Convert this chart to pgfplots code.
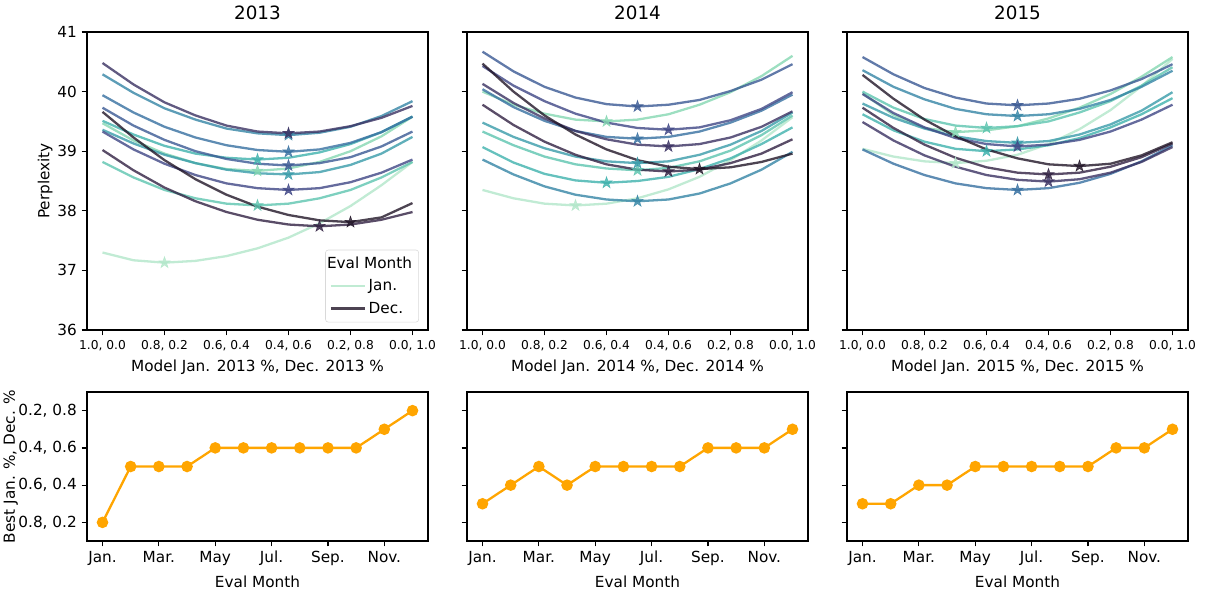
\documentclass[border=0pt]{standalone}
\usepackage{fontspec}
\setmainfont{DejaVu Sans}
\usepackage{pgfplots}
\pgfplotsset{compat=1.18}
\usepackage{pgfplotstable}

% mako_r, one colour per eval month (Jan. ... Dec.)
\definecolor{c1}{HTML}{B1E6C9}
\definecolor{c2}{HTML}{85D7B2}
\definecolor{c3}{HTML}{5DC4AF}
\definecolor{c4}{HTML}{3EB1AC}
\definecolor{c5}{HTML}{389BA9}
\definecolor{c6}{HTML}{3585A5}
\definecolor{c7}{HTML}{366FA0}
\definecolor{c8}{HTML}{3A5993}
\definecolor{c9}{HTML}{3F4685}
\definecolor{c10}{HTML}{3A3162}
\definecolor{c11}{HTML}{312142}
\definecolor{c12}{HTML}{211527}
\definecolor{bestc}{HTML}{FFA500}

% filled five-pointed star
\pgfdeclareplotmark{fstar}{%
  \pgfpathmoveto{\pgfpointpolar{90}{\pgfplotmarksize}}%
  \pgfpathlineto{\pgfpointpolar{126}{0.382\pgfplotmarksize}}%
  \pgfpathlineto{\pgfpointpolar{162}{\pgfplotmarksize}}%
  \pgfpathlineto{\pgfpointpolar{198}{0.382\pgfplotmarksize}}%
  \pgfpathlineto{\pgfpointpolar{234}{\pgfplotmarksize}}%
  \pgfpathlineto{\pgfpointpolar{270}{0.382\pgfplotmarksize}}%
  \pgfpathlineto{\pgfpointpolar{306}{\pgfplotmarksize}}%
  \pgfpathlineto{\pgfpointpolar{342}{0.382\pgfplotmarksize}}%
  \pgfpathlineto{\pgfpointpolar{18}{\pgfplotmarksize}}%
  \pgfpathlineto{\pgfpointpolar{54}{0.382\pgfplotmarksize}}%
  \pgfpathclose\pgfusepathqfillstroke}

% perplexity per mixing ratio (x = Dec. share), columns = eval month
\pgfplotstableread{
x   m1    m2    m3    m4    m5    m6    m7    m8    m9    m10   m11   m12
0.0 37.30 39.47 38.82 39.51 39.36 40.29 39.94 39.73 39.33 40.48 39.02 39.66
0.1 37.17 39.18 38.56 39.28 39.13 39.98 39.65 39.43 39.03 40.12 38.68 39.23
0.2 37.13 38.96 38.35 39.09 38.94 39.72 39.41 39.19 38.79 39.82 38.39 38.85
0.3 37.16 38.80 38.21 38.96 38.80 39.53 39.23 39.00 38.60 39.60 38.16 38.53
0.4 37.24 38.70 38.12 38.89 38.69 39.38 39.10 38.87 38.46 39.43 37.98 38.27
0.5 37.37 38.67 38.09 38.86 38.63 39.30 39.02 38.79 38.38 39.33 37.85 38.07
0.6 37.55 38.71 38.12 38.89 38.61 39.27 38.99 38.76 38.35 39.30 37.77 37.93
0.7 37.79 38.82 38.21 38.98 38.65 39.31 39.03 38.80 38.38 39.33 37.74 37.84
0.8 38.08 39.00 38.35 39.12 38.77 39.41 39.14 38.90 38.48 39.42 37.77 37.81
0.9 38.43 39.25 38.56 39.32 38.96 39.59 39.32 39.08 38.64 39.56 37.85 37.89
1.0 38.82 39.58 38.82 39.58 39.24 39.84 39.58 39.33 38.86 39.76 37.98 38.13
}\tabA
\pgfplotstableread{
x   m1    m2    m3    m4    m5    m6    m7    m8    m9    m10   m11   m12
0.0 38.35 40.00 39.33 39.07 39.48 38.86 40.04 40.67 40.43 40.13 39.78 40.47
0.1 38.21 39.78 39.10 38.81 39.24 38.61 39.74 40.34 40.10 39.81 39.44 40.00
0.2 38.12 39.63 38.91 38.62 39.05 38.41 39.51 40.08 39.84 39.55 39.16 39.60
0.3 38.09 39.53 38.78 38.51 38.91 38.27 39.34 39.90 39.63 39.34 38.94 39.28
0.4 38.12 39.50 38.71 38.47 38.83 38.19 39.24 39.79 39.48 39.20 38.78 39.03
0.5 38.21 39.53 38.68 38.50 38.80 38.16 39.21 39.75 39.39 39.11 38.69 38.85
0.6 38.36 39.62 38.72 38.57 38.83 38.19 39.24 39.78 39.36 39.08 38.66 38.74
0.7 38.57 39.78 38.83 38.70 38.94 38.29 39.33 39.86 39.40 39.12 38.69 38.70
0.8 38.85 39.99 39.01 38.88 39.11 38.46 39.48 40.01 39.52 39.23 38.80 38.73
0.9 39.18 40.26 39.27 39.12 39.34 38.69 39.68 40.20 39.71 39.41 38.96 38.82
1.0 39.57 40.60 39.60 39.40 39.65 38.99 39.95 40.46 39.99 39.67 39.20 38.96
}\tabB
\pgfplotstableread{
x   m1    m2    m3    m4    m5    m6    m7    m8    m9    m10   m11   m12
0.0 39.04 39.97 40.00 39.62 39.80 40.36 39.03 40.58 39.96 39.49 39.73 40.28
0.1 38.91 39.61 39.73 39.35 39.56 40.08 38.79 40.29 39.64 39.18 39.39 39.88
0.2 38.83 39.39 39.54 39.16 39.38 39.87 38.60 40.06 39.40 38.93 39.11 39.53
0.3 38.80 39.32 39.43 39.04 39.25 39.71 38.46 39.90 39.22 38.74 38.89 39.25
0.4 38.84 39.35 39.39 39.00 39.17 39.62 38.38 39.80 39.12 38.60 38.73 39.03
0.5 38.94 39.42 39.42 39.03 39.14 39.59 38.35 39.77 39.08 38.52 38.64 38.88
0.6 39.12 39.55 39.50 39.10 39.17 39.62 38.38 39.80 39.11 38.49 38.61 38.78
0.7 39.37 39.73 39.65 39.22 39.28 39.71 38.47 39.88 39.19 38.53 38.64 38.75
0.8 39.69 39.96 39.84 39.40 39.45 39.86 38.62 40.02 39.33 38.64 38.74 38.79
0.9 40.09 40.25 40.10 39.62 39.68 40.08 38.83 40.21 39.53 38.82 38.90 38.93
1.0 40.55 40.58 40.41 39.89 39.99 40.35 39.10 40.46 39.78 39.07 39.13 39.15
}\tabC

% best Dec. share per eval month
\pgfplotstableread{
month best
1  0.2
2  0.5
3  0.5
4  0.5
5  0.6
6  0.6
7  0.6
8  0.6
9  0.6
10 0.6
11 0.7
12 0.8
}\bestA
\pgfplotstableread{
month best
1  0.3
2  0.4
3  0.5
4  0.4
5  0.5
6  0.5
7  0.5
8  0.5
9  0.6
10 0.6
11 0.6
12 0.7
}\bestB
\pgfplotstableread{
month best
1  0.3
2  0.3
3  0.4
4  0.4
5  0.5
6  0.5
7  0.5
8  0.5
9  0.5
10 0.6
11 0.6
12 0.7
}\bestC

% one eval-month curve, star on its minimum (mark index counted from 1)
\newcommand{\curve}[3]{%
  \addplot[forget plot, color=c#1, line width=1.65pt, opacity=0.8,
    mark=fstar, mark indices={#3}, mark size=4.3pt,
    mark options={line width=0.4pt}] table[x=x, y=m#1] {#2};}

\pgfplotsset{
  base/.style={
    scale only axis, width=245.52pt, anchor=south west,
    tick align=outside, tick pos=left, major tick length=3.85pt,
    tick style={black, line width=0.88pt},
    axis line style={line width=0.88pt},
    tick label style={font=\fontsize{11}{13}\selectfont},
    label style={font=\fontsize{11}{13}\selectfont},
    /pgf/number format/assume math mode=true,
  },
  topax/.style={base, height=214.56pt,
    xmin=-0.05, xmax=1.05, ymin=36, ymax=41,
    xtick={0,0.2,0.4,0.6,0.8,1},
    xticklabels={{1.0, 0.0},{0.8, 0.2},{0.6, 0.4},{0.4, 0.6},{0.2, 0.8},{0.0, 1.0}},
    x tick label style={font=\fontsize{8.8}{10.5}\selectfont},
    ytick={36,37,38,39,40,41},
    title style={font=\fontsize{13.2}{15.8}\selectfont, yshift=-1pt},
  },
  botax/.style={base, height=107.28pt,
    xmin=0.45, xmax=12.55, ymin=0.1, ymax=0.9,
    xtick={1,3,5,7,9,11},
    xticklabels={Jan.,Mar.,May,Jul.,Sep.,Nov.},
    ytick={0.2,0.4,0.6,0.8},
    xlabel={Eval Month},
  },
  best/.style={color=bestc, line width=1.65pt, mark=*, mark size=3.3pt},
}

\begin{document}
\begin{tikzpicture}
\useasboundingbox (0,0) rectangle (869.04pt,-424.08pt);

% ---- top row ----
\begin{axis}[topax, at={(62.64pt,-237.6pt)}, title={2013},
  ylabel={Perplexity}, ylabel shift=-3.5pt,
  xlabel={Model Jan. 2013 \%, Dec. 2013 \%},
  legend style={at={(1,0)}, anchor=south east, xshift=-6.5pt, yshift=5.5pt,
    draw=black!15, rounded corners=2pt, fill=white, row sep=2.5pt,
    inner sep=3pt, font=\fontsize{11}{13}\selectfont},
  legend cell align=left,
  legend image code/.code={\draw[#1] (0cm,0cm) -- (0.86cm,0cm);}]
\curve{1}{\tabA}{3}
\curve{2}{\tabA}{6}
\curve{3}{\tabA}{6}
\curve{4}{\tabA}{6}
\curve{5}{\tabA}{7}
\curve{6}{\tabA}{7}
\curve{7}{\tabA}{7}
\curve{8}{\tabA}{7}
\curve{9}{\tabA}{7}
\curve{10}{\tabA}{7}
\curve{11}{\tabA}{8}
\curve{12}{\tabA}{9}
\addlegendimage{empty legend}
\addlegendentry{\makebox[31pt][l]{\hspace*{-30pt}Eval Month}}
\addlegendimage{color=c1, line width=1.65pt, opacity=0.8}
\addlegendentry{Jan.}
\addlegendimage{color=c12, line width=1.65pt, opacity=0.8}
\addlegendentry{Dec.}
\end{axis}

\begin{axis}[topax, at={(336.24pt,-237.6pt)}, title={2014},
  yticklabels={}, xlabel={Model Jan. 2014 \%, Dec. 2014 \%}]
\curve{1}{\tabB}{4}
\curve{2}{\tabB}{5}
\curve{3}{\tabB}{6}
\curve{4}{\tabB}{5}
\curve{5}{\tabB}{6}
\curve{6}{\tabB}{6}
\curve{7}{\tabB}{6}
\curve{8}{\tabB}{6}
\curve{9}{\tabB}{7}
\curve{10}{\tabB}{7}
\curve{11}{\tabB}{7}
\curve{12}{\tabB}{8}
\end{axis}

\begin{axis}[topax, at={(609.84pt,-237.6pt)}, title={2015},
  yticklabels={}, xlabel={Model Jan. 2015 \%, Dec. 2015 \%}]
\curve{1}{\tabC}{4}
\curve{2}{\tabC}{4}
\curve{3}{\tabC}{5}
\curve{4}{\tabC}{5}
\curve{5}{\tabC}{6}
\curve{6}{\tabC}{6}
\curve{7}{\tabC}{6}
\curve{8}{\tabC}{6}
\curve{9}{\tabC}{6}
\curve{10}{\tabC}{7}
\curve{11}{\tabC}{7}
\curve{12}{\tabC}{8}
\end{axis}

% ---- bottom row ----
\begin{axis}[botax, at={(62.64pt,-389.52pt)},
  yticklabels={{0.8, 0.2},{0.6, 0.4},{0.4, 0.6},{0.2, 0.8}},
  ylabel={Best Jan. \%, Dec. \%}, ylabel shift=-6.5pt]
\addplot[best] table[x=month, y=best] {\bestA};
\end{axis}

\begin{axis}[botax, at={(336.24pt,-389.52pt)}, yticklabels={}]
\addplot[best] table[x=month, y=best] {\bestB};
\end{axis}

\begin{axis}[botax, at={(609.84pt,-389.52pt)}, yticklabels={}]
\addplot[best] table[x=month, y=best] {\bestC};
\end{axis}
\end{tikzpicture}
\end{document}
